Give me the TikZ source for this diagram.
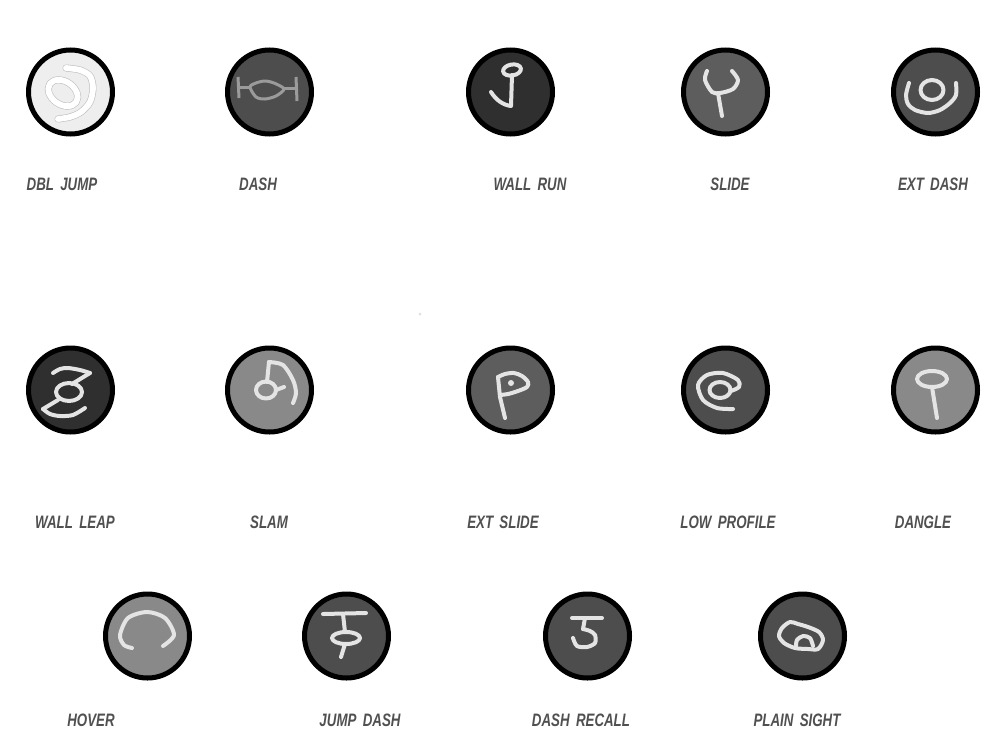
\documentclass[tikz,border=0pt]{standalone}
\usepackage{fontspec}
\setsansfont[FakeStretch=0.74,WordSpace=1.7]{Liberation Sans}
\begin{document}
\begin{tikzpicture}[x=1pt,y=-1pt,font=\sffamily]

\definecolor{badge_draw}{RGB}{0,0,0}
\definecolor{badge_pale}{RGB}{238,238,238}
\definecolor{badge_coal}{RGB}{47,47,47}
\definecolor{badge_dark}{RGB}{77,77,77}
\definecolor{badge_mid}{RGB}{93,93,93}
\definecolor{badge_light}{RGB}{137,137,137}
\definecolor{mark_draw}{RGB}{228,228,228}
\definecolor{mark_edge}{RGB}{190,190,190}
\definecolor{mark_thin}{RGB}{155,155,155}
\definecolor{label_text}{RGB}{80,80,80}
\tikzstyle{badge_style}=[circle,draw=badge_draw,line width=5pt,minimum size=84pt,inner sep=0pt]
\tikzstyle{label_style}=[text=label_text,inner sep=0pt,font=\sffamily\bfseries\itshape\fontsize{18}{18}\selectfont]
\tikzstyle{mark_style}=[draw=mark_draw,line width=4pt,line cap=round,line join=round]
\tikzstyle{thin_style}=[draw=mark_thin,line width=3pt,line join=round]
\tikzstyle{edge_style}=[draw=mark_edge,line width=7pt,line cap=round,line join=round]
\tikzstyle{core_style}=[draw=white,line width=5.8pt,line cap=round,line join=round]

\useasboundingbox (0,0) rectangle (1000,750);

\node(dbl_jump) at (70.5,92) [badge_style,fill=badge_pale] {};

\node(dash) at (269.5,92) [badge_style,fill=badge_dark] {};

\node(wall_run) at (510.5,92) [badge_style,fill=badge_coal] {};

\node(slide) at (725.5,92) [badge_style,fill=badge_mid] {};

\node(ext_dash) at (935.5,92) [badge_style,fill=badge_dark] {};

\node(wall_leap) at (70.5,390) [badge_style,fill=badge_coal] {};

\node(slam) at (269.5,390) [badge_style,fill=badge_light] {};

\node(ext_slide) at (510.5,390) [badge_style,fill=badge_mid] {};

\node(low_profile) at (725.5,390) [badge_style,fill=badge_dark] {};

\node(dangle) at (935.5,390) [badge_style,fill=badge_light] {};

\node(hover) at (147.5,636) [badge_style,fill=badge_light] {};

\node(jump_dash) at (346.5,636) [badge_style,fill=badge_dark] {};

\node(dash_recall) at (587.5,636) [badge_style,fill=badge_dark] {};

\node(plain_sight) at (802.5,636) [badge_style,fill=badge_dark] {};

\node(dbl_jump_text) at (62,184) [label_style] {DBL JUMP};

\node(dash_text) at (258,184) [label_style] {DASH};

\node(wall_run_text) at (530,184) [label_style] {WALL RUN};

\node(slide_text) at (730,184) [label_style] {SLIDE};

\node(ext_dash_text) at (933,184) [label_style] {EXT DASH};

\node(wall_leap_text) at (75,522) [label_style] {WALL LEAP};

\node(slam_text) at (269,522) [label_style] {SLAM};

\node(ext_slide_text) at (503,522) [label_style] {EXT SLIDE};

\node(low_profile_text) at (728,522) [label_style] {LOW PROFILE};

\node(dangle_text) at (923,522) [label_style] {DANGLE};

\node(hover_text) at (91,720) [label_style] {HOVER};

\node(jump_dash_text) at (360,720) [label_style] {JUMP DASH};

\node(dash_recall_text) at (581,720) [label_style] {DASH RECALL};

\node(plain_sight_text) at (797,720) [label_style] {PLAIN SIGHT};

\node(speck) at (420,314) [circle,fill=black!12,inner sep=0pt,minimum size=3pt] {};

% dbl jump
\draw[edge_style] (63,93) ellipse [x radius=16,y radius=11.5,rotate=-35];
\draw[edge_style] plot[smooth] coordinates {(66,68) (80,70) (90,76) (93,88) (90,102) (81,112) (70,117) (58,119)};
\draw[core_style] (63,93) ellipse [x radius=16,y radius=11.5,rotate=-35];
\draw[core_style] plot[smooth] coordinates {(66,68) (80,70) (90,76) (93,88) (90,102) (81,112) (70,117) (58,119)};

% dash
\draw[thin_style] plot[smooth cycle] coordinates {(250,87) (256,83) (265,81) (274,83) (284,89) (276,96) (265,99) (256,97)};
\draw[thin_style] (238,77) -- (239,98);
\draw[thin_style] (296,77) -- (297,101);
\draw[thin_style] (239,87) -- (250,87);
\draw[thin_style] (283,88) -- (297,88);

% wall run
\draw[mark_style] (512,70) ellipse [x radius=9,y radius=5.5,rotate=10];
\draw[mark_style] (512,75) -- (511,106) .. controls (503,105) and (496,100) .. (491,92);

% slide
\draw[mark_style] plot[smooth] coordinates {(707,71) (705,80) (712,92) (720,93) (733,89) (738,80) (732,71)};
\draw[mark_style] (718,93) -- (722,116);

% ext dash
\draw[mark_style] plot[smooth] coordinates {(909,83) (906,95) (908,104) (915,110) (928,113) (940,110) (950,103) (956,95) (956,83)};
\draw[mark_style] (932,90) ellipse [x radius=11.5,y radius=10];

% wall leap
\draw[mark_style] plot[smooth] coordinates {(53,373) (60,369) (68,368) (80,370) (90,373)};
\draw[mark_style] (90,373) -- (72,384);
\draw[mark_style] (69,392) ellipse [x radius=13,y radius=9];
\draw[mark_style] (58,400) -- (43,409);
\draw[mark_style] plot[smooth] coordinates {(43,409) (50,414) (60,416) (73,415) (85,408)};

% slam
\draw[mark_style] (267,382) -- (269,362);
\draw[mark_style] plot[smooth] coordinates {(269,362) (283,365) (293,380) (296,393) (293,403)};
\draw[mark_style] (266,390) ellipse [x radius=10,y radius=8.5];
\draw[mark_style] (276,390) -- (284,387);

% ext slide
\draw[mark_style] (505,418) -- (500,397) -- (498,377);
\draw[mark_style] plot[smooth] coordinates {(498,377) (505,374) (514,373) (522,376) (528,382) (527,387) (518,391) (508,394) (500,395)};
\node(ext_slide_dot) at (511,383) [circle,fill=mark_draw,inner sep=0pt,minimum size=6pt] {};

% low profile
\draw[mark_style] plot[smooth] coordinates {(733,409) (717,408) (703,400) (698,385) (707,375) (723,373) (738,380) (739,387) (731,391)};
\draw[mark_style] (720,390) ellipse [x radius=10.5,y radius=8];

% dangle
\draw[mark_style] (932,379) ellipse [x radius=15,y radius=8];
\draw[mark_style] (932,387) -- (937,418);

% hover
\draw[mark_style] plot[smooth] coordinates {(132,648) (124,645) (120,635) (128,618) (147,612) (165,618) (174,635) (163,646)};

% jump dash
\draw[mark_style] (323,614) -- (366,613);
\draw[mark_style] (343,614) -- (345,632);
\draw[mark_style] (346,638) ellipse [x radius=14,y radius=6];
\draw[mark_style] (345,644) -- (341,657);

% dash recall
\draw[mark_style] (572,618) -- (602,618);
\draw[mark_style] (585,618) -- (583,629);
\draw[mark_style] plot[smooth] coordinates {(583,629) (590,631) (595,635) (595,643) (587,647) (577,646) (573,638)};

% plain sight
\draw[mark_style] plot[smooth cycle] coordinates {(790,622) (782,628) (779,636) (784,643) (795,648) (808,649) (818,649) (823,640) (819,632) (808,627) (798,624)};
\draw[mark_style] plot[smooth] coordinates {(796,646) (797,640) (803,636) (810,638) (813,646)};

\end{tikzpicture}
\end{document}
